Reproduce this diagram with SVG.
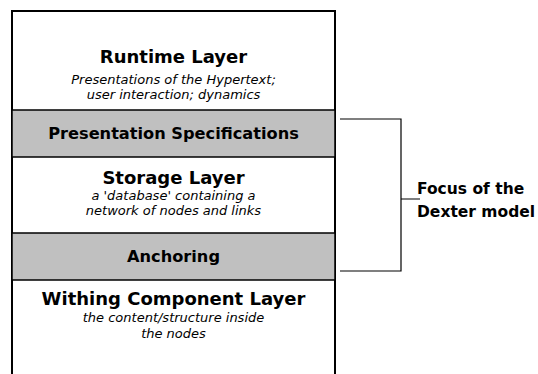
<svg xmlns="http://www.w3.org/2000/svg" width="538" height="374" viewBox="0 0 538 374">
<style>
.t{font-family:"DejaVu Sans","Verdana",sans-serif;font-weight:bold;fill:#000;text-anchor:middle}
.s{font-family:"DejaVu Sans","Verdana",sans-serif;font-style:italic;fill:#000;text-anchor:middle;font-size:13px}
.band{fill:#c0c0c0;stroke:#000;stroke-width:1.5}
.ln{fill:none;stroke:#000;stroke-width:1.2}
</style>
<rect x="0" y="0" width="538" height="374" fill="#fff"/>
<g id="frame">
<path d="M12,380 V11 H335 V380" fill="#fff" stroke="#000" stroke-width="2"/>
</g>
<g id="runtime">
<text class="t" x="173.5" y="63" font-size="18">Runtime Layer</text>
<text class="s" x="173.5" y="84">Presentations of the Hypertext;</text>
<text class="s" x="173.5" y="99">user interaction; dynamics</text>
</g>
<g id="presentation">
<rect class="band" x="12" y="110" width="323" height="47"/>
<text class="t" x="173.5" y="139" font-size="16.2">Presentation Specifications</text>
</g>
<g id="storage">
<text class="t" x="173.5" y="184" font-size="18">Storage Layer</text>
<text class="s" x="173.5" y="200">a 'database' containing a</text>
<text class="s" x="173.5" y="215">network of nodes and links</text>
</g>
<g id="anchoring">
<rect class="band" x="12" y="233" width="323" height="47"/>
<text class="t" x="173.5" y="262" font-size="16.2">Anchoring</text>
</g>
<g id="within">
<text class="t" x="173.5" y="305" font-size="18">Withing Component Layer</text>
<text class="s" x="173.5" y="322">the content/structure inside</text>
<text class="s" x="173.5" y="338">the nodes</text>
</g>
<g id="connectors">
<path class="ln" d="M340,119 H401 V271 H340 M401,199 H420"/>
</g>
<g id="focus">
<text class="t" x="417" y="194" font-size="15.5" style="text-anchor:start">Focus of the</text>
<text class="t" x="417" y="217" font-size="15.5" style="text-anchor:start">Dexter model</text>
</g>
</svg>
